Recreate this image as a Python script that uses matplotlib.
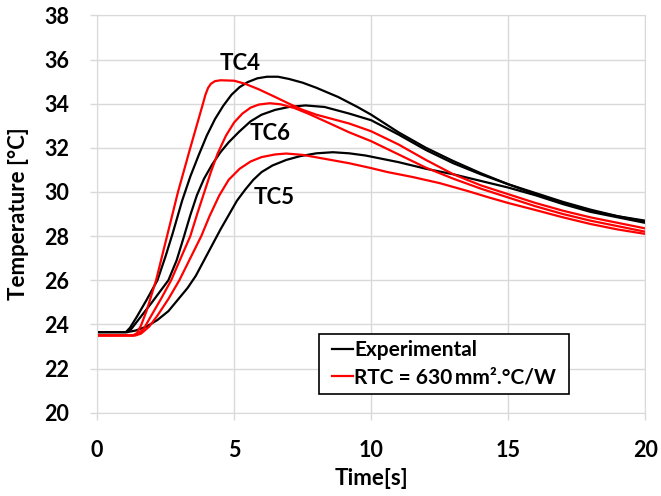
import numpy as np
import matplotlib.pyplot as plt
from matplotlib.patches import Rectangle

plt.rcParams['font.family'] = ['Lato', 'DejaVu Sans']
plt.rcParams['font.weight'] = 'bold'

# Experimental curves (black)
t_exp4 = [0, 1.05, 1.2, 1.45, 1.8, 2.2, 2.5, 2.75, 3.1, 3.4, 3.7, 4.0, 4.3, 4.6, 4.9, 5.2, 5.5, 5.85, 6.2,
          6.6, 7.0, 7.5, 8.0, 8.8, 9.5, 10, 11, 12, 13, 14, 15, 16, 17, 18, 19, 20]
T_exp4 = [23.65, 23.65, 23.85, 24.35, 25.1, 26.0, 27.1, 28.1, 29.6, 30.7, 31.65, 32.55, 33.3, 33.9, 34.4, 34.75,
          34.98, 35.15, 35.22, 35.22, 35.12, 34.95, 34.72, 34.3, 33.85, 33.5, 32.7, 32.0, 31.4, 30.85, 30.35,
          29.9, 29.5, 29.15, 28.9, 28.7]

t_exp6 = [0, 1.1, 1.25, 1.5, 2.0, 2.6, 2.9, 3.16, 3.4, 3.64, 3.9, 4.2, 4.5, 4.8, 5.2, 5.6, 6.0, 6.5, 7.0, 7.6,
          8.3, 9.2, 10, 11, 12, 13, 14, 15, 16, 17, 18, 19, 20]
T_exp6 = [23.65, 23.65, 23.8, 24.2, 25.0, 26.0, 26.9, 27.95, 28.95, 29.85, 30.6, 31.25, 31.8, 32.25, 32.75,
          33.2, 33.5, 33.72, 33.85, 33.92, 33.85, 33.55, 33.25, 32.6, 31.9, 31.3, 30.8, 30.35, 29.95, 29.55,
          29.2, 28.9, 28.65]

t_exp5 = [0, 1.1, 1.4, 1.8, 2.2, 2.6, 3.0, 3.3, 3.6, 3.9, 4.2, 4.5, 4.8, 5.1, 5.4, 5.7, 6.0, 6.4, 6.9, 7.4,
          8.0, 8.6, 9.2, 9.8, 10.4, 11, 12, 13, 14, 15, 16, 17, 18, 19, 20]
T_exp5 = [23.65, 23.65, 23.72, 23.9, 24.2, 24.6, 25.2, 25.65, 26.2, 26.9, 27.6, 28.3, 28.95, 29.6, 30.1, 30.55,
          30.9, 31.2, 31.45, 31.62, 31.75, 31.8, 31.75, 31.65, 31.5, 31.35, 31.05, 30.8, 30.5, 30.2, 29.85,
          29.45, 29.1, 28.85, 28.6]

# Simulation curves (red)
t_sim4 = [0, 1.3, 1.45, 1.6, 1.8, 2.0, 2.15, 2.55, 2.95, 3.4, 3.7, 3.85, 3.95, 4.05, 4.15, 4.3, 4.5, 5.0, 5.4,
          5.9, 6.5, 7.0, 7.5, 8.0, 8.6, 9.2, 10, 10.5, 11, 12, 13, 14, 15, 16, 17, 18, 19, 20]
T_sim4 = [23.5, 23.5, 23.6, 23.95, 24.6, 25.4, 26.0, 28.0, 30.0, 32.0, 33.3, 33.95, 34.4, 34.72, 34.9, 35.02,
          35.06, 35.04, 34.9, 34.65, 34.3, 34.0, 33.72, 33.5, 33.3, 33.1, 32.75, 32.45, 32.15, 31.45, 30.8, 30.3,
          29.9, 29.5, 29.15, 28.85, 28.6, 28.35]

t_sim6 = [0, 1.35, 1.5, 1.7, 2.0, 2.35, 2.7, 3.05, 3.4, 3.65, 3.9, 4.15, 4.4, 4.7, 5.0, 5.3, 5.6, 5.9, 6.3,
          6.7, 7.2, 7.7, 8.5, 9.2, 10, 11, 12, 13, 14, 15, 16, 17, 18, 19, 20]
T_sim6 = [23.5, 23.5, 23.58, 23.8, 24.45, 25.2, 26.0, 27.0, 28.0, 29.0, 29.95, 30.9, 31.75, 32.55, 33.15, 33.55,
          33.82, 33.96, 34.02, 33.97, 33.8, 33.55, 33.1, 32.7, 32.3, 31.7, 31.1, 30.6, 30.15, 29.75, 29.35, 29.0,
          28.7, 28.45, 28.2]

t_sim5 = [0, 1.4, 1.6, 1.9, 2.2, 2.6, 3.0, 3.4, 3.8, 4.1, 4.46, 4.8, 5.2, 5.6, 6.0, 6.5, 6.9, 7.5, 8.4, 9.2,
          10, 10.6, 11.5, 12.5, 13.5, 14.3, 15, 16, 17, 18, 19, 20]
T_sim5 = [23.5, 23.5, 23.58, 23.9, 24.4, 25.15, 26.0, 27.0, 28.0, 28.9, 29.85, 30.55, 31.05, 31.38, 31.58, 31.7,
          31.74, 31.68, 31.48, 31.3, 31.08, 30.9, 30.68, 30.4, 30.05, 29.75, 29.5, 29.18, 28.85, 28.55, 28.3, 28.1]

labels = ["TC4", "TC6", "TC5"]
label_pos = [(5.2, 35.8), (6.3, 32.65), (6.45, 29.75)]

fig = plt.figure(figsize=(6.61, 4.96), dpi=100)
ax = fig.add_axes([0.147, 0.168, 0.829, 0.801])

lw = 1.6
ax.plot(t_exp4, T_exp4, color="black", lw=lw, label="Experimental")
ax.plot(t_exp6, T_exp6, color="black", lw=lw)
ax.plot(t_exp5, T_exp5, color="black", lw=lw)
ax.plot(t_sim4, T_sim4, color="#ff0000", lw=lw, label="RTC = 630\u2009mm\u00b2.\u00b0C/W")
ax.plot(t_sim6, T_sim6, color="#ff0000", lw=lw)
ax.plot(t_sim5, T_sim5, color="#ff0000", lw=lw)

for lab, (x, y) in zip(labels, label_pos):
    ax.text(x, y, lab, ha="center", va="center", fontsize=16, fontweight="bold")

ax.set_xlim(0, 20)
ax.set_ylim(20, 38)
ax.set_xticks(np.arange(0, 21, 5))
ax.set_yticks(np.arange(20, 39, 2))
ax.grid(True, color="#d9d9d9", lw=1)
ax.set_axisbelow(True)
for s in ax.spines.values():
    s.set_color("#d9d9d9")
ax.tick_params(colors="#d9d9d9", labelcolor="black", labelsize=15.5, length=5, width=1)
ax.tick_params(axis="y", pad=15)
ax.tick_params(axis="x", pad=15)
for lbl in ax.get_xticklabels() + ax.get_yticklabels():
    lbl.set_fontweight("bold")

ax.set_xlabel("Time[s]", fontsize=16, fontweight="bold")
ax.set_ylabel("Temperature [°C]", fontsize=16, fontweight="bold")
ax.xaxis.set_label_coords(0.5, -0.14)
ax.yaxis.set_label_coords(-0.125, 0.5)

# legend frame box
bx, by, bw, bh = 0.405, 0.047, 0.456, 0.152
ax.add_patch(Rectangle((bx, by), bw, bh, transform=ax.transAxes, facecolor="white",
                       edgecolor="black", lw=1.2, zorder=4))
leg = ax.legend(loc="center", bbox_to_anchor=(bx + bw / 2, by + bh / 2), frameon=False,
                fontsize=15, handlelength=1.05, handletextpad=0.05,
                borderpad=0.1, labelspacing=0.35)
leg.set_zorder(5)
for txt in leg.get_texts():
    txt.set_fontweight("bold")

fig.savefig("out.png", dpi=100)
